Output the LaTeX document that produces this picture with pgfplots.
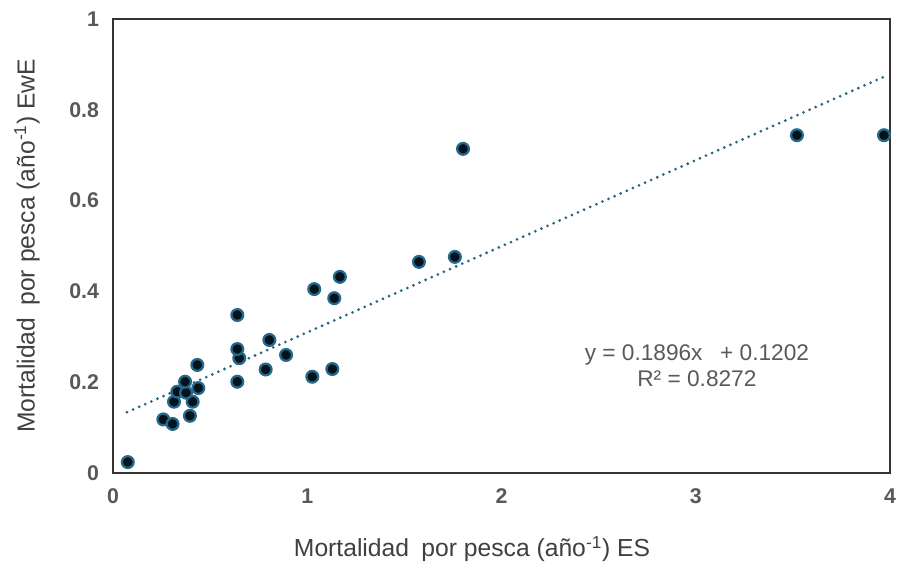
\documentclass[border=0pt]{standalone}
\usepackage{pgfplots}
\pgfplotsset{compat=1.18}
\usepackage{fontspec}
\setmainfont{Liberation Sans}

\definecolor{tickgrey}{HTML}{595959}
\definecolor{labelgrey}{HTML}{404040}
\definecolor{ringblue}{HTML}{24688A}
\definecolor{corenavy}{HTML}{04121C}
\definecolor{trendteal}{HTML}{2A6682}

\begin{document}
\begin{tikzpicture}[x=1pt,y=1pt]
\useasboundingbox (-84.75,-68.25) rectangle (590.25,354.75);
\begin{axis}[
  at={(0,0)}, anchor=south west,
  scale only axis,
  width=582.75pt, height=340.5pt,
  xmin=0, xmax=4, ymin=0, ymax=1,
  xtick={0,1,2,3,4}, ytick={0,0.2,0.4,0.6,0.8,1},
  xticklabels={0,1,2,3,4},
  yticklabels={0,0.2,0.4,0.6,0.8,1},
  tick style={draw=none},
  axis line style={draw=black!80, line width=1.1pt},
  /pgf/number format/assume math mode=true,
  ticklabel style={font=\fontsize{16}{18}\selectfont\bfseries, text=tickgrey},
  xticklabel style={yshift=-8pt},
  yticklabel style={xshift=-7pt},
  xlabel={Mortalidad\hspace{0.5em}por pesca (año\textsuperscript{-1}) ES},
  ylabel={Mortalidad\hspace{0.5em}por pesca (año\textsuperscript{-1}) EwE},
  label style={font=\fontsize{18.5}{20}\selectfont, text=labelgrey},
  xlabel style={at={(axis description cs:0.462,-0.168)}, anchor=center},
  ylabel style={at={(axis description cs:-0.1107,0.5)}, anchor=center},
  clip=false,
]
% fitted line y = 0.1896x + 0.1202
\addplot[trendteal, line width=2.3pt, dash pattern=on 0pt off 5pt, line cap=round]
  coordinates {(0.072,0.13385) (3.97,0.87291)};

% observed values
\addplot[only marks, mark=*, mark size=4.4pt,
  mark options={fill=corenavy, draw=ringblue, line width=1.7pt}]
  coordinates {
  (0.076,0.024) (0.259,0.118) (0.307,0.108) (0.396,0.126)
  (0.314,0.157) (0.410,0.157) (0.331,0.179) (0.376,0.177)
  (0.371,0.201) (0.439,0.187) (0.434,0.238) (0.640,0.201)
  (0.650,0.253) (0.640,0.273) (0.640,0.348) (0.786,0.228)
  (0.805,0.293) (0.891,0.260) (1.026,0.212) (1.129,0.229)
  (1.036,0.405) (1.139,0.385) (1.168,0.432) (1.575,0.465)
  (1.760,0.476) (1.802,0.714) (3.521,0.744) (3.969,0.744)
  };

\node[align=center, text=tickgrey, font=\fontsize{17}{20}\selectfont]
  at (axis cs:3.006,0.236) {y = 0.1896x\,\,\, + 0.1202\\R² = 0.8272};
\end{axis}
\end{tikzpicture}
\end{document}
